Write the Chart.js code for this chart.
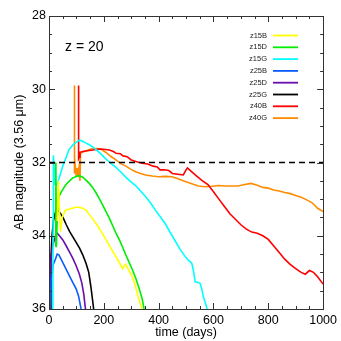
<!DOCTYPE html>
<html>
<head>
<meta charset="utf-8">
<script src="https://cdn.jsdelivr.net/npm/chart.js@4"></script>
<style>
  html, body { margin: 0; padding: 0; background: #fff; }
  canvas { display: block; }
</style>
</head>
<body>
<canvas id="c" width="341" height="341"></canvas>
<script>
// ---- data ----
const seriesNames = ["z15B", "z15D", "z15G", "z25B", "z25D", "z25G", "z40B", "z40G"];
const seriesColors = ["#ffff00", "#00ee00", "#00ffff", "#0a5cff", "#6a0dad", "#000000", "#ff0000", "#ff8c00"];

const z15B_days = [30, 34, 38, 42, 48, 60, 75, 87, 99, 111, 123, 135, 150, 171, 190, 207, 225, 244, 258, 268, 275, 280, 292, 304, 316, 328, 340];
const z15B_mag  = [33.6, 32.5, 33.3, 33.88, 33.5, 33.3, 33.27, 33.24, 33.22, 33.22, 33.25, 33.3, 33.45, 33.66, 33.88, 34.1, 34.33, 34.57, 34.75, 34.9, 34.82, 34.78, 34.95, 35.12, 35.4, 35.75, 36.0];

const z15D_days = [24, 25, 27, 30, 36, 45, 60, 75, 87, 99, 111, 123, 135, 147, 159, 171, 183, 195, 207, 220, 232, 244, 256, 268, 280, 292, 304, 316, 328, 340, 347];
const z15D_mag  = [34.3, 32.0, 34.3, 33.5, 32.93, 32.8, 32.62, 32.5, 32.42, 32.38, 32.36, 32.4, 32.48, 32.57, 32.68, 32.82, 32.98, 33.15, 33.33, 33.52, 33.72, 33.92, 34.1, 34.3, 34.52, 34.72, 34.92, 35.15, 35.42, 35.72, 36.0];

const z15G_days = [14, 15, 16, 19, 22, 26, 30, 36, 44, 51, 63, 72, 87, 99, 111, 123, 135, 150, 171, 190, 207, 225, 244, 262, 280, 298, 316, 334, 352, 370, 388, 406, 425, 443, 461, 479, 497, 510, 521, 527, 533, 545, 551, 557, 563, 569, 577];
const z15G_mag  = [36.0, 33.5, 31.8, 32.2, 32.6, 32.62, 32.58, 32.45, 32.25, 32.08, 31.85, 31.66, 31.52, 31.45, 31.39, 31.42, 31.47, 31.53, 31.64, 31.77, 31.9, 32.02, 32.13, 32.26, 32.4, 32.52, 32.63, 32.78, 32.93, 33.1, 33.3, 33.48, 33.68, 33.92, 34.15, 34.38, 34.57, 34.68, 34.75, 34.95, 35.25, 35.28, 35.3, 35.45, 35.66, 35.8, 36.0];

const z25B_days = [3, 8, 15, 24, 30, 36, 45, 55, 65, 75, 87, 99, 108, 117];
const z25B_mag  = [36.0, 35.2, 34.8, 34.63, 34.5, 34.52, 34.65, 34.8, 34.95, 35.1, 35.28, 35.45, 35.65, 36.0];

const z25D_days = [2, 6, 12, 20, 26, 30, 38, 51, 63, 75, 87, 99, 111, 120, 127, 133];
const z25D_mag  = [36.0, 34.8, 34.3, 34.1, 33.97, 33.93, 34.0, 34.12, 34.28, 34.45, 34.62, 34.82, 35.05, 35.3, 35.6, 36.0];

const z25G_days = [4, 7, 11, 16, 22, 27, 30, 38, 51, 63, 75, 87, 99, 111, 123, 135, 145, 153, 158, 163];
const z25G_mag  = [36.0, 34.6, 34.0, 33.6, 33.4, 33.28, 33.25, 33.35, 33.5, 33.7, 33.88, 34.03, 34.18, 34.33, 34.52, 34.75, 35.0, 35.4, 35.7, 36.0];

const z40B_days = [108, 108, 111, 113, 123, 140, 160, 183, 200, 220, 235, 245, 260, 270, 285, 300, 320, 340, 360, 380, 395, 405, 420, 437, 450, 470, 490, 500, 505, 520, 540, 560, 580, 600, 620, 640, 660, 680, 700, 720, 740, 760, 780, 800, 820, 840, 860, 880, 900, 920, 935, 950, 965, 980, 1000];
const z40B_mag  = [29.9, 31.9, 31.85, 31.72, 31.7, 31.68, 31.66, 31.63, 31.64, 31.66, 31.7, 31.75, 31.76, 31.82, 31.84, 31.93, 31.98, 32.02, 32.04, 32.1, 32.12, 32.2, 32.2, 32.22, 32.3, 32.32, 32.34, 32.2, 32.15, 32.25, 32.38, 32.5, 32.6, 32.8, 33.0, 33.2, 33.4, 33.55, 33.7, 33.82, 33.9, 33.93, 34.0, 34.1, 34.28, 34.46, 34.64, 34.78, 34.9, 35.0, 35.05, 34.95, 35.0, 35.12, 35.32];

const z40G_days = [93, 93, 96, 99, 102, 106, 110, 113, 115, 120, 130, 145, 160, 175, 190, 207, 225, 244, 262, 280, 298, 316, 334, 352, 376, 400, 425, 449, 473, 497, 521, 545, 569, 593, 618, 642, 666, 690, 714, 737, 760, 780, 800, 820, 840, 860, 880, 900, 920, 940, 960, 980, 1000];
const z40G_mag  = [29.9, 32.3, 32.1, 32.35, 32.15, 32.3, 32.1, 32.5, 31.75, 31.72, 31.7, 31.65, 31.62, 31.62, 31.64, 31.72, 31.83, 31.93, 32.03, 32.1, 32.18, 32.25, 32.3, 32.34, 32.37, 32.39, 32.38, 32.39, 32.45, 32.52, 32.58, 32.64, 32.66, 32.65, 32.63, 32.64, 32.64, 32.64, 32.6, 32.57, 32.62, 32.68, 32.7, 32.75, 32.78, 32.82, 32.85, 32.9, 32.95, 33.02, 33.1, 33.25, 33.34];

const limitDays = [0, 1000];
const limitMag  = [32, 32];

const xTicks = [0, 200, 400, 600, 800, 1000];
const yTicks = [28, 30, 32, 34, 36];
const annotationText = "z = 20";
const xTitle = "time (days)";
const yTitle = "AB magnitude (3.56 \u03bcm)";

// ---- build datasets ----
const allDays = [z15B_days, z15D_days, z15G_days, z25B_days, z25D_days, z25G_days, z40B_days, z40G_days];
const allMag  = [z15B_mag, z15D_mag, z15G_mag, z25B_mag, z25D_mag, z25G_mag, z40B_mag, z40G_mag];
const zip = (xs, ys) => xs.map((x, i) => ({x: x, y: ys[i]}));

const datasets = seriesNames.map((name, i) => ({
  label: name,
  data: zip(allDays[i], allMag[i]),
  borderColor: seriesColors[i],
  backgroundColor: seriesColors[i],
  borderWidth: 1.6,
  pointRadius: 0,
  tension: 0,
  fill: false,
  order: 1
}));
datasets.push({
  label: "limit",
  data: zip(limitDays, limitMag),
  borderColor: "#000000",
  borderWidth: 1.6,
  borderDash: [6, 4],
  pointRadius: 0,
  fill: false,
  order: 0,
  isLimit: true
});

const FONT = "'Liberation Sans', Arial, Helvetica, sans-serif";

const framePlugin = {
  id: "frame",
  afterDraw(chart) {
    const ctx = chart.ctx;
    const a = chart.chartArea;
    const xs = chart.scales.x, ys = chart.scales.y;
    ctx.save();
    ctx.strokeStyle = "#333333";
    ctx.lineWidth = 1;
    ctx.strokeRect(Math.round(a.left) + 0.5, Math.round(a.top) + 0.5,
                   Math.round(a.right - a.left), Math.round(a.bottom - a.top));
    ctx.beginPath();
    for (let v = xs.min; v <= xs.max + 1e-9; v += 50) {
      const px = Math.round(xs.getPixelForValue(v)) + 0.5;
      const len = (v % 200 === 0) ? 6 : 3;
      ctx.moveTo(px, a.bottom); ctx.lineTo(px, a.bottom - len);
      ctx.moveTo(px, a.top); ctx.lineTo(px, a.top + len);
    }
    for (let v = 28; v <= 36 + 1e-9; v += 0.5) {
      const py = Math.round(ys.getPixelForValue(v)) + 0.5;
      const len = (Math.abs(v % 2) < 1e-9) ? 6 : 3;
      ctx.moveTo(a.left, py); ctx.lineTo(a.left + len, py);
      ctx.moveTo(a.right, py); ctx.lineTo(a.right - len, py);
    }
    ctx.stroke();

    // annotation
    ctx.fillStyle = "#000";
    ctx.font = "14px " + FONT;
    ctx.textAlign = "left";
    ctx.textBaseline = "middle";
    ctx.fillText(annotationText, 65, 47);

    // legend
    ctx.font = "7.5px " + FONT;
    ctx.textAlign = "right";
    let y = 35.5;
    chart.data.datasets.forEach(ds => {
      if (ds.isLimit) return;
      ctx.fillStyle = "#222";
      ctx.fillText(ds.label, 267, y);
      ctx.strokeStyle = ds.borderColor;
      ctx.lineWidth = 1.8;
      ctx.beginPath();
      ctx.moveTo(273, y); ctx.lineTo(298, y);
      ctx.stroke();
      y += 11.8;
    });
    ctx.restore();
  }
};

new Chart(document.getElementById("c"), {
  type: "line",
  data: { datasets: datasets },
  options: {
    responsive: false,
    animation: false,
    devicePixelRatio: 1,
    layout: { padding: { top: 16, right: 15, left: 0, bottom: 0 } },
    plugins: { legend: { display: false }, tooltip: { enabled: false } },
    scales: {
      x: {
        type: "linear",
        min: 0, max: 1000,
        afterBuildTicks(s) { s.ticks = xTicks.map(v => ({value: v})); },
        afterFit(s) { s.height = 32; },
        grid: { display: false, drawTicks: false },
        border: { display: false },
        ticks: { color: "#000", padding: 4, maxRotation: 0, font: { family: FONT, size: 12.5 },
                 callback: (v) => String(v) },
        title: { display: true, text: xTitle, color: "#000", padding: { top: 0, bottom: 1 }, font: { family: FONT, size: 12.5 } }
      },
      y: {
        type: "linear",
        min: 28, max: 36,
        reverse: true,
        afterBuildTicks(s) { s.ticks = yTicks.map(v => ({value: v})); },
        afterFit(s) { s.width = 49; },
        grid: { display: false, drawTicks: false },
        border: { display: false },
        ticks: { color: "#000", padding: 3, font: { family: FONT, size: 12.5 }, callback: (v) => String(v) },
        title: { display: true, text: yTitle, color: "#000", padding: { top: 12.5, bottom: 0 }, font: { family: FONT, size: 12.5 } }
      }
    }
  },
  plugins: [framePlugin]
});
</script>
</body>
</html>
